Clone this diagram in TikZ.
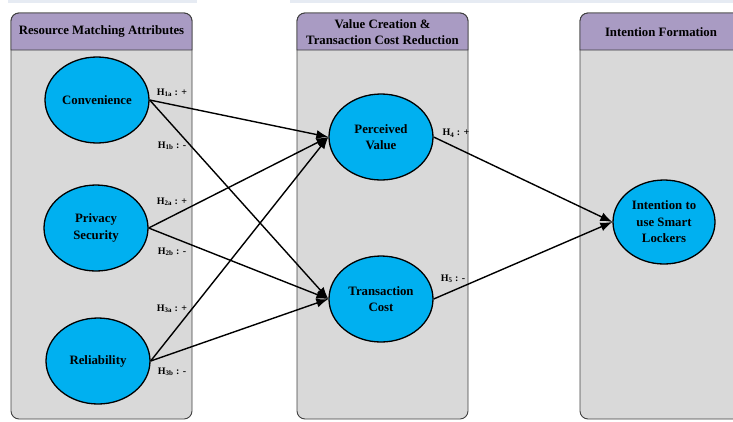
\documentclass[tikz,border=0pt]{standalone}
\usepackage{fontspec}
\setmainfont{Liberation Serif}
\usepackage{tikz}
\usetikzlibrary{arrows.meta,shapes.geometric}

\definecolor{panelgray}{RGB}{217,217,217}
\definecolor{headpurple}{RGB}{169,155,195}
\definecolor{bubble}{RGB}{0,176,240}
\definecolor{topstrip}{RGB}{230,235,243}

\tikzset{
    panel/.style={draw=black!75, fill=panelgray, line width=0.9pt, rounded corners=8pt},
    header/.style={draw=black!75, fill=headpurple, line width=0.9pt},
    construct/.style={ellipse, draw=black, fill=bubble, line width=1.3pt,
        minimum width=104pt, minimum height=86pt, inner sep=0pt, align=center,
        font=\bfseries\fontsize{12.8}{16.5}\selectfont},
    title/.style={align=center, font=\bfseries\fontsize{12.8}{16.5}\selectfont},
    hyp/.style={font=\bfseries\fontsize{10}{11}\selectfont, inner sep=1pt},
    path/.style={-{Latex[length=12pt,width=9pt]}, line width=1.4pt}
}

\begin{document}
\begin{tikzpicture}[x=1pt,y=-1pt]
    \useasboundingbox (0,0) rectangle (733,421);
    \fill [topstrip] (8,0) rectangle (197,3);
    \fill [topstrip] (290,0) rectangle (733,3);

    % columns
    \foreach \xl/\xr in {11/192, 297/468, 580/745}{%
        \draw [panel] (\xl,13) rectangle (\xr,419);
        \draw [header] (\xl,50) [rounded corners=8pt] -- (\xl,13) -- (\xr,13)
            [sharp corners] -- (\xr,50) -- cycle;}

    \node [title] (tleft)  at (101.5,31) {Resource Matching Attributes};
    \node [title] (tmid)   at (382.5,32) {Value Creation \&\\Transaction Cost Reduction};
    \node [title] (tright) at (661,32)   {Intention Formation};

    % constructs
    \node [construct] (conv) at (97,100)  {Convenience};
    \node [construct] (priv) at (96,228)  {Privacy\\Security};
    \node [construct] (reli) at (98,361)  {Reliability};
    \node [construct] (pval) at (381,137) {Perceived\\Value};
    \node [construct] (tcost) at (381,299) {Transaction\\Cost};
    \node [construct, minimum width=102pt, minimum height=84pt] (intent) at (664,222)
        {Intention to\\use Smart\\Lockers};

    % hypotheses
    \foreach \src in {conv,priv,reli}{%
        \draw [path] (\src.east) -- (pval.west);
        \draw [path] (\src.east) -- (tcost.west);}
    \draw [path] (pval.east)  -- (intent.west);
    \draw [path] (tcost.east) -- (intent.west);

    \node [hyp] (h1a) at (172,93)  {H\textsubscript{1a} : +};
    \node [hyp] (h1b) at (172,146) {H\textsubscript{1b} : -};
    \node [hyp] (h2a) at (172,202) {H\textsubscript{2a} : +};
    \node [hyp] (h2b) at (172,252) {H\textsubscript{2b} : -};
    \node [hyp] (h3a) at (172,309) {H\textsubscript{3a} : +};
    \node [hyp] (h3b) at (172,372) {H\textsubscript{3b} : -};
    \node [hyp] (h4)  at (456,133) {H\textsubscript{4} : +};
    \node [hyp] (h5)  at (453,279) {H\textsubscript{5} : -};
\end{tikzpicture}
\end{document}
